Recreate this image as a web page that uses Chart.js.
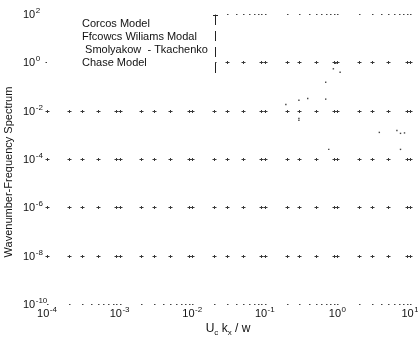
<!DOCTYPE html>
<html>
<head>
<meta charset="utf-8">
<script src="https://cdn.jsdelivr.net/npm/chart.js@4"></script>
<style>
  html, body { margin: 0; padding: 0; background: #fff; }
  canvas { display: block; }
</style>
</head>
<body>
<canvas id="spectrum" width="418" height="343"></canvas>
<script>
// Decade exponents that carry a "10^n" label on each axis
const xTickExponents = [-4, -3, -2, -1, 0, 1];
const yTickExponents = [2, 0, -2, -4, -6, -8, -10];

// Within each decade: where the dotted grid leaves a cross, and where the frame ticks sit
const gridMultipliers = [1, 2, 3, 5, 9];
const frameMultipliers = [1, 2, 3, 4, 5, 6, 7, 8, 9];

const legendLabels = ['Corcos Model', 'Ffcowcs Wiliams Modal', ' Smolyakow  - Tkachenko', 'Chase Model'];

// Surviving points of the four model curves
const corcosX = [0.95, 0.88, 1.09, 0.69];
const corcosY = [0.92, 0.54, 0.39, 0.15];
const ffowcsX = [0.295, 0.39, 0.69, 0.195];
const ffowcsY = [0.027, 0.032, 0.030, 0.018];
const smolX = [0.295, 0.295, 0.76];
const smolY = [0.0048, 0.0040, 0.00025];
const chaseX = [3.78, 6.6, 7.4, 8.4, 7.4];
const chaseY = [0.00126, 0.0015, 0.00115, 0.0012, 0.00025];

const seriesX = [corcosX, ffowcsX, smolX, chaseX];
const seriesY = [corcosY, ffowcsY, smolY, chaseY];

const FONT = '"Liberation Sans", Arial, Helvetica, sans-serif';
const INK = '#111';

function pairs(xs, ys) {
  return xs.map((x, i) => ({ x: x, y: ys[i] }));
}

// "10" with a raised exponent; returns total width
function powerWidth(ctx, exp) {
  ctx.font = '11px ' + FONT;
  const w1 = ctx.measureText('10').width;
  ctx.font = '8px ' + FONT;
  const w2 = ctx.measureText(String(exp).replace('-', '\u2011')).width;
  return w1 + 0.5 + w2;
}
function drawPower(ctx, left, baseline, exp) {
  ctx.textAlign = 'left';
  ctx.textBaseline = 'alphabetic';
  ctx.fillStyle = INK;
  ctx.font = '11px ' + FONT;
  ctx.fillText('10', left, baseline);
  const w1 = ctx.measureText('10').width;
  ctx.font = '8px ' + FONT;
  ctx.fillText(String(exp).replace('-', '\u2011'), left + w1 + 0.5, baseline - 5);
}

function decadeValues(exps, mults) {
  const out = [];
  for (let e = exps[0]; e < exps[exps.length - 1]; e++) {
    mults.forEach(m => out.push(m * Math.pow(10, e)));
  }
  out.push(Math.pow(10, exps[exps.length - 1]));
  return out;
}

const gridPlugin = {
  id: 'crossGrid',
  beforeDatasetsDraw(chart) {
    const ctx = chart.ctx;
    const xs = chart.scales.x, ys = chart.scales.y;
    ctx.save();
    ctx.strokeStyle = '#3a3a3a';
    ctx.lineWidth = 1;
    const gx = decadeValues(xTickExponents, gridMultipliers);
    const rows = yTickExponents.slice(1, -1);
    rows.forEach(e => {
      const py = Math.round(ys.getPixelForValue(Math.pow(10, e))) + 0.5;
      gx.forEach(v => {
        const px = Math.round(xs.getPixelForValue(v)) + 0.5;
        ctx.beginPath();
        ctx.moveTo(px - 2, py); ctx.lineTo(px + 2, py);
        ctx.moveTo(px, py - 1.5); ctx.lineTo(px, py + 1.5);
        ctx.stroke();
      });
    });
    // frame ticks along top and bottom edges
    ctx.fillStyle = '#444';
    const fx = decadeValues(xTickExponents, frameMultipliers);
    [yTickExponents[0], yTickExponents[yTickExponents.length - 1]].forEach(e => {
      const py = Math.round(ys.getPixelForValue(Math.pow(10, e)));
      fx.forEach(v => {
        const px = Math.round(xs.getPixelForValue(v));
        ctx.fillRect(px, py, 1.5, 1);
      });
    });
    ctx.restore();
  },
  afterDatasetsDraw(chart) {
    const ctx = chart.ctx;
    const xs = chart.scales.x, ys = chart.scales.y;
    const area = chart.chartArea;
    ctx.save();

    // legend box
    const boxRight = 215;
    ctx.fillStyle = '#fff';
    ctx.fillRect(area.left, area.top - 2, boxRight - area.left, 62);
    ctx.strokeStyle = '#222';
    ctx.lineWidth = 1;
    ctx.setLineDash([10, 6]);
    ctx.beginPath();
    ctx.moveTo(boxRight + 0.5, 15);
    ctx.lineTo(boxRight + 0.5, 75);
    ctx.stroke();
    ctx.setLineDash([]);
    ctx.beginPath();
    ctx.moveTo(boxRight - 2, 15.5);
    ctx.lineTo(boxRight + 3, 15.5);
    ctx.stroke();

    ctx.fillStyle = INK;
    ctx.font = '11px ' + FONT;
    ctx.textAlign = 'left';
    ctx.textBaseline = 'alphabetic';
    chart.data.datasets.forEach((ds, i) => {
      ctx.fillText(ds.label, 82, 27 + i * 13);
    });

    // y tick labels
    yTickExponents.forEach(e => {
      const py = ys.getPixelForValue(Math.pow(10, e));
      drawPower(ctx, 23, py + 4, e);
    });
    // x tick labels
    xTickExponents.forEach(e => {
      const px = xs.getPixelForValue(Math.pow(10, e));
      const w = powerWidth(ctx, e);
      drawPower(ctx, px - w / 2, 317, e);
    });

    // x axis title: U_c k_x / w
    const parts = [['U', 0, 12], ['c', 3, 8], [' k', 0, 12], ['x', 3, 8], [' / w', 0, 12]];
    let total = 0;
    parts.forEach(p => { ctx.font = p[2] + 'px ' + FONT; total += ctx.measureText(p[0]).width; });
    let cx = 228 - total / 2;
    parts.forEach(p => {
      ctx.font = p[2] + 'px ' + FONT;
      ctx.fillText(p[0], cx, 332 + p[1]);
      cx += ctx.measureText(p[0]).width;
    });

    // y axis title
    ctx.translate(12, 172);
    ctx.rotate(-Math.PI / 2);
    ctx.font = '11px ' + FONT;
    ctx.textAlign = 'center';
    ctx.fillText('Wavenumber-Frequency Spectrum', 0, 0);
    ctx.restore();
  }
};

new Chart(document.getElementById('spectrum'), {
  type: 'scatter',
  data: {
    datasets: legendLabels.map((label, i) => ({
      label: label,
      data: pairs(seriesX[i], seriesY[i]),
      showLine: false,
      pointStyle: 'rect',
      pointRadius: 1,
      borderWidth: 0,
      backgroundColor: '#444',
      borderColor: '#444'
    }))
  },
  options: {
    responsive: false,
    animation: false,
    devicePixelRatio: 1,
    layout: { padding: { left: 47, right: 8, top: 14, bottom: 39 } },
    plugins: { legend: { display: false }, tooltip: { enabled: false } },
    scales: {
      x: { type: 'logarithmic', min: 1e-4, max: 10, display: false },
      y: { type: 'logarithmic', min: 1e-10, max: 100, display: false }
    }
  },
  plugins: [gridPlugin]
});
</script>
</body>
</html>
